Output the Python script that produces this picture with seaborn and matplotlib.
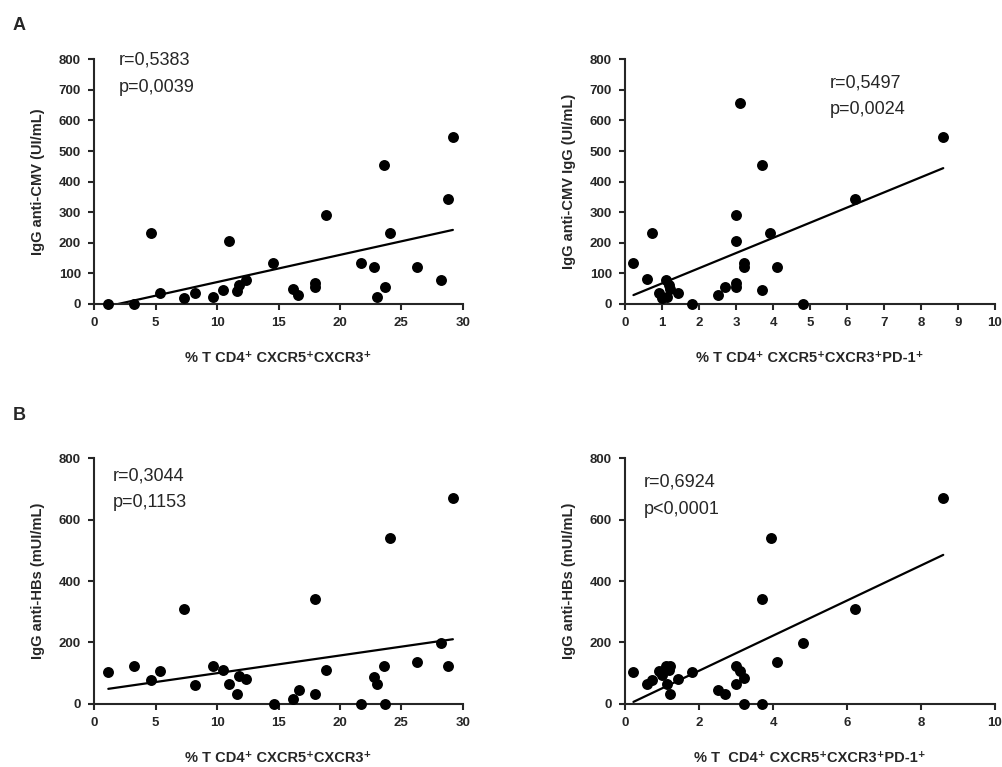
import seaborn as sns
import matplotlib.pyplot as plt
import pandas as pd

# -----------------------------
# data (one list per panel)
# -----------------------------
# A, left: IgG anti-CMV vs % T CD4+ CXCR5+CXCR3+
a1_x = [1.14, 3.26, 4.59, 5.32, 7.30, 8.17, 9.67, 10.51, 11.0, 11.6, 11.76, 12.33, 14.58, 16.2,
        16.6, 17.97, 17.97, 18.9, 21.7, 22.8, 23.0, 23.6, 23.7, 24.1, 26.3, 28.2, 28.8, 29.2]
a1_y = [0, 0, 233, 35, 21, 35, 24, 46, 207, 44, 62, 78, 135, 48,
        29, 68, 54, 290, 133, 122, 24, 453, 57, 233, 122, 78, 343, 545]

# A, right: IgG anti-CMV vs % T CD4+ CXCR5+CXCR3+PD-1+
a2_x = [0.22, 0.60, 0.71, 0.91, 1.0, 1.09, 1.12, 1.19, 1.22, 1.42, 1.80, 2.50, 2.71, 3.0,
        3.0, 3.0, 3.0, 3.09, 3.2, 3.2, 3.71, 3.71, 3.91, 4.09, 4.80, 6.20, 8.60]
a2_y = [133, 81, 233, 35, 21, 78, 24, 62, 48, 35, 0, 29, 54, 290,
        207, 68, 57, 656, 133, 122, 453, 46, 233, 122, 0, 343, 545]

# B, left: IgG anti-HBs vs % T CD4+ CXCR5+CXCR3+
b1_x = [1.14, 3.26, 4.59, 5.32, 7.28, 8.17, 9.67, 10.51, 11.0, 11.6, 11.76, 12.33, 14.63, 16.2,
        16.64, 17.97, 17.97, 18.9, 21.7, 22.8, 23.0, 23.6, 23.7, 24.1, 26.3, 28.2, 28.8, 29.2]
b1_y = [102, 123, 77, 108, 309, 62, 123, 110, 65, 32, 91, 80, 0, 14,
        45, 340, 33, 110, 0, 88, 64, 123, 0, 541, 135, 199, 123, 671]

# B, right: IgG anti-HBs vs % T CD4+ CXCR5+CXCR3+PD-1+
b2_x = [0.22, 0.60, 0.71, 0.91, 1.0, 1.09, 1.12, 1.19, 1.22, 1.22, 1.42, 1.80, 2.50, 2.71,
        3.0, 3.0, 3.09, 3.2, 3.2, 3.71, 3.71, 3.93, 4.09, 4.80, 6.20, 8.60]
b2_y = [102, 63, 77, 108, 93, 123, 64, 110, 123, 32, 80, 102, 45, 32,
        123, 64, 108, 85, 0, 340, 0, 541, 135, 199, 309, 671]

r_text = ["r=0,5383", "r=0,5497", "r=0,3044", "r=0,6924"]
p_text = ["p=0,0039", "p=0,0024", "p=0,1153", "p<0,0001"]
xlabels = ["% T CD4\u207a CXCR5\u207aCXCR3\u207a", "% T CD4\u207a CXCR5\u207aCXCR3\u207aPD-1\u207a",
           "% T CD4\u207a CXCR5\u207aCXCR3\u207a", "% T  CD4\u207a CXCR5\u207aCXCR3\u207aPD-1\u207a"]
ylabels = ["IgG anti-CMV (UI/mL)", "IgG anti-CMV IgG (UI/mL)",
           "IgG anti-HBs (mUI/mL)", "IgG anti-HBs (mUI/mL)"]

sns.set_style("ticks")
plt.rcParams["font.family"] = ["Liberation Sans", "DejaVu Sans"]

W, H = 1002, 767
fig = plt.figure(figsize=(W / 100, H / 100), dpi=100)


def px_axes(left, right, top, bottom):
    return fig.add_axes([left / W, 1 - bottom / H, (right - left) / W, (bottom - top) / H])


# axes, x max, x step, y step, (text left, r line y, p line y) in pixels
panels = [
    (a1_x, a1_y, px_axes(94.3, 462.7, 59.3, 304.0), 30, 5, 100, (119, 60, 87)),
    (a2_x, a2_y, px_axes(625.3, 995.0, 59.3, 304.0), 10, 1, 100, (830, 83, 110)),
    (b1_x, b1_y, px_axes(94.3, 462.7, 458.3, 703.7), 30, 5, 200, (113, 476, 502)),
    (b2_x, b2_y, px_axes(625.3, 995.0, 458.3, 703.7), 10, 2, 200, (644, 482, 509)),
]

for i, (xs, ys, ax, xmax, xstep, ystep, tp) in enumerate(panels):
    df = pd.DataFrame({"x": xs, "y": ys})
    sns.regplot(data=df, x="x", y="y", ax=ax, ci=None, color="black",
                scatter_kws={"s": 62, "alpha": 1, "clip_on": False, "zorder": 3, "linewidths": 0},
                line_kws={"lw": 1.6, "color": "black"})
    ax.set_xlim(0, xmax)
    ax.set_ylim(0, 800)
    ax.set_xticks(range(0, xmax + 1, xstep))
    ax.set_yticks(range(0, 801, ystep))
    sns.despine(ax=ax)
    for sp in ["left", "bottom"]:
        ax.spines[sp].set_linewidth(1.5)
    ax.tick_params(width=1.5, length=4.5, labelsize=9.5, pad=5)
    for lab in ax.get_xticklabels() + ax.get_yticklabels():
        lab.set_fontweight("bold")
    ax.set_xlabel(xlabels[i], fontsize=10.5, fontweight="bold", labelpad=16)
    ax.set_ylabel(ylabels[i], fontsize=10.5, fontweight="bold", labelpad=10)
    fig.text(tp[0] / W, 1 - tp[1] / H, r_text[i], fontsize=13, va="center", ha="left")
    fig.text(tp[0] / W, 1 - tp[2] / H, p_text[i], fontsize=13, va="center", ha="left")

fig.text(13 / W, 1 - 17 / H, "A", fontsize=13, fontweight="bold", va="top")
fig.text(13 / W, 1 - 407 / H, "B", fontsize=13, fontweight="bold", va="top")

fig.savefig("out.png", dpi=100)
